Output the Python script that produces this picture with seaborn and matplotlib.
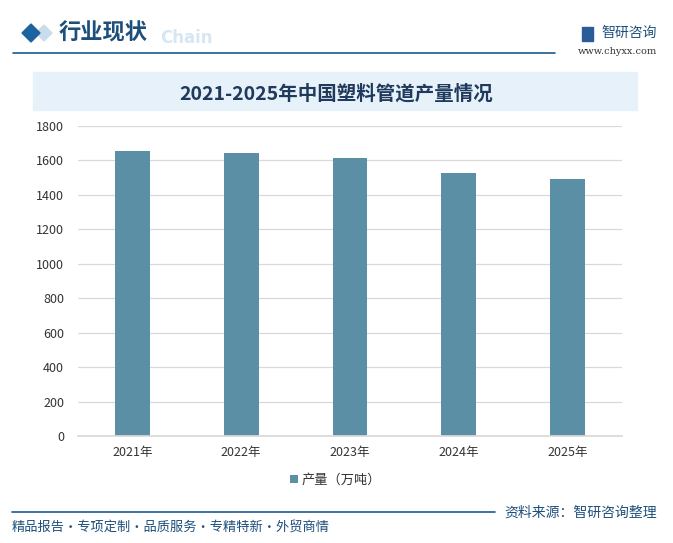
import matplotlib
matplotlib.use("Agg")
import matplotlib.pyplot as plt
import matplotlib.patches as mpatches
import seaborn as sns
import pandas as pd

# data
years = ['2021年', '2022年', '2023年', '2024年', '2025年']
output = [1657, 1643, 1616, 1527, 1492]
series_name = '产量（万吨）'
y_ticks = [0, 200, 400, 600, 800, 1000, 1200, 1400, 1600, 1800]

title = '2021-2025年中国塑料管道产量情况'
section = '行业现状'
source = '资料来源：智研咨询整理'
slogan = '精品报告·专项定制·品质服务·专精特新·外贸商情'

sns.set_theme(style='white')
plt.rcParams['font.family'] = ['Noto Sans CJK SC', 'DejaVu Sans']

W, H = 673, 543
fig = plt.figure(figsize=(W / 100, H / 100), dpi=100)
fig.patch.set_facecolor('white')


def px(x, y):
    return x / W, 1 - y / H


# header
fig.patches.append(mpatches.Polygon([px(36, 33), px(44, 25), px(52, 33), px(44, 41)],
                                    closed=True, transform=fig.transFigure,
                                    color='#c9dcec', zorder=1))
fig.patches.append(mpatches.Polygon([px(22, 33), px(31, 24), px(40, 33), px(31, 42)],
                                    closed=True, transform=fig.transFigure,
                                    color='#1c63a0', zorder=2))
fig.text(*px(160, 38), 'Chain', fontsize=12, fontweight='bold', color='#d6e6f3',
         va='center', ha='left', family=['DejaVu Sans'])
fig.text(*px(59, 33), section, fontsize=16, fontweight='bold', color='#1d4f7c',
         va='center', ha='left')
fig.lines.append(plt.Line2D([13 / W, 555 / W], [1 - 52.5 / H] * 2, transform=fig.transFigure,
                            color='#1d5a8c', lw=1.2))

# logo
fig.patches.append(mpatches.Rectangle(px(582, 41), 11 / W, 14 / H, transform=fig.transFigure,
                                      color='#2a5c9a'))
fig.text(*px(657, 33), '智研咨询', fontsize=10, color='#1d4f7c', va='center', ha='right')
fig.text(*px(657, 52), 'www.chyxx.com', fontsize=7, color='#333333', va='center', ha='right',
         family=['DejaVu Serif'])

# title band
fig.patches.append(mpatches.Rectangle(px(33, 110), 604 / W, 38 / H, transform=fig.transFigure,
                                      color='#e7f1f9'))
fig.text(*px(336, 94), title, fontsize=14, fontweight='bold', color='#1f3a5c',
         va='center', ha='center')

# chart
ax = fig.add_axes([78 / W, (H - 436) / H, 544 / W, 310 / H])
df = pd.DataFrame({'year': years, 'value': output})
sns.barplot(data=df, x='year', y='value', color='#5b8fa6', width=0.32, saturation=1,
            linewidth=0, label=series_name, ax=ax)
ax.set_ylim(0, 1800)
ax.set_yticks(y_ticks)
ax.set_xlabel('')
ax.set_ylabel('')
ax.yaxis.grid(True, color='#d9d9d9', lw=0.9)
ax.set_axisbelow(True)
for s in ['top', 'right', 'left']:
    ax.spines[s].set_visible(False)
ax.spines['bottom'].set_color('#d9d9d9')
ax.tick_params(axis='both', length=0, labelsize=9, colors='#333333')
ax.tick_params(axis='y', pad=10)
ax.tick_params(axis='x', pad=7)

leg = ax.legend(loc='center', bbox_to_anchor=(0.473, -0.142), frameon=False, fontsize=9.5,
                handlelength=0.6, handleheight=0.6, handletextpad=0.3)
for t in leg.get_texts():
    t.set_color('#333333')

# footer
fig.lines.append(plt.Line2D([12 / W, 495 / W], [1 - 512 / H] * 2, transform=fig.transFigure,
                            color='#1d5a8c', lw=1.2))
fig.text(*px(657, 513), source, fontsize=10, color='#1d4f7c', va='center', ha='right')
fig.text(*px(12, 527), slogan, fontsize=9.5, color='#1d4f7c', va='center', ha='left')

fig.savefig('out.png', dpi=100)
